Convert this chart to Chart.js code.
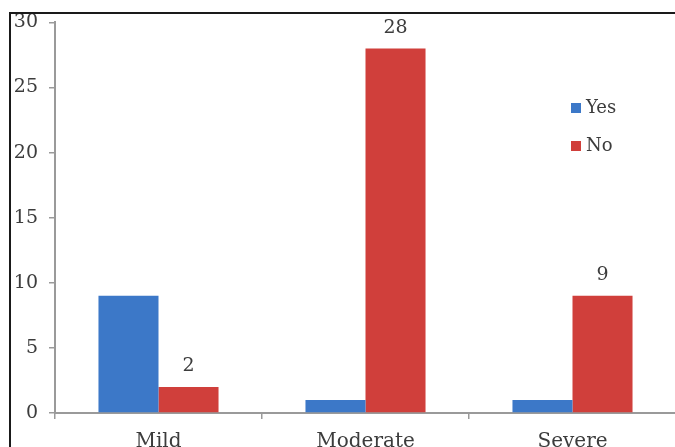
<!DOCTYPE html>
<html>
<head>
<meta charset="utf-8">
<script src="https://cdn.jsdelivr.net/npm/chart.js@4.4.1/dist/chart.umd.min.js"></script>
<style>
  html, body { margin: 0; padding: 0; background: #fff; overflow: hidden; width: 675px; height: 447px; }
  #wrap { position: relative; width: 675px; height: 447px; overflow: hidden; }
  #frame { position: absolute; left: 9px; top: 12px; width: 700px; height: 500px;
           border-left: 2px solid #1a1a1a; border-top: 2px solid #1a1a1a; pointer-events: none; }
  canvas { position: absolute; left: 0; top: 0; }
</style>
</head>
<body>
<div id="wrap">
  <canvas id="c" width="680" height="470"></canvas>
  <div id="frame"></div>
</div>
<script>
// Severity groups and responses
const categories = ['Mild', 'Moderate', 'Severe'];
const yesValues = [9, 1, 1];
const noValues = [2, 28, 9];
const seriesNames = ['Yes', 'No'];
const yTicks = [0, 5, 10, 15, 20, 25, 30];

const BLUE = '#3c78c8';
const RED = '#d03f3b';
const AXIS = '#9a9a9a';
const TEXT = '#3c3c3c';
const FONT = 'DejaVu Serif';

// Value labels above the "No" bars
const noLabels = {
  id: 'noLabels',
  afterDatasetsDraw(chart) {
    const ctx = chart.ctx;
    const meta = chart.getDatasetMeta(1);
    ctx.save();
    ctx.font = '19px "' + FONT + '"';
    ctx.fillStyle = TEXT;
    ctx.textAlign = 'center';
    ctx.textBaseline = 'bottom';
    meta.data.forEach((bar, i) => {
      ctx.fillText(String(noValues[i]), bar.x, bar.y - 11);
    });
    ctx.restore();
  }
};

// Legend drawn inside the plot, stacked vertically
const insideLegend = {
  id: 'insideLegend',
  afterDraw(chart) {
    const ctx = chart.ctx;
    ctx.save();
    ctx.font = '18px "' + FONT + '"';
    ctx.textAlign = 'left';
    ctx.textBaseline = 'middle';
    chart.data.datasets.forEach((ds, i) => {
      const y = 108 + i * 38;
      ctx.fillStyle = ds.backgroundColor;
      ctx.fillRect(571, y - 5, 10, 10);
      ctx.fillStyle = TEXT;
      ctx.fillText(ds.label, 586, y);
    });
    ctx.restore();
  }
};

new Chart(document.getElementById('c'), {
  type: 'bar',
  data: {
    labels: categories,
    datasets: [
      { label: seriesNames[0], data: yesValues, backgroundColor: BLUE },
      { label: seriesNames[1], data: noValues, backgroundColor: RED }
    ]
  },
  options: {
    responsive: false,
    animation: false,
    devicePixelRatio: 1,
    layout: { padding: { top: 22, right: 4, left: 0, bottom: 0 } },
    datasets: { bar: { categoryPercentage: 0.58, barPercentage: 1.0 } },
    plugins: { legend: { display: false }, tooltip: { enabled: false } },
    scales: {
      x: {
        grid: { display: true, drawOnChartArea: false, drawTicks: true, tickLength: 6, color: AXIS, lineWidth: 1.5 },
        border: { display: true, color: AXIS, width: 2 },
        ticks: { color: TEXT, font: { family: FONT, size: 20 }, padding: 11 },
        afterFit(scale) { scale.height = 57; }
      },
      y: {
        min: 0, max: 30,
        afterBuildTicks(scale) { scale.ticks = yTicks.map(v => ({ value: v })); },
        grid: { display: true, drawOnChartArea: false, drawTicks: true, tickLength: 6, color: AXIS, lineWidth: 1.5 },
        border: { display: true, color: AXIS, width: 2 },
        ticks: { color: TEXT, font: { family: FONT, size: 19 }, padding: 11 },
        afterFit(scale) { scale.width = 55; }
      }
    }
  },
  plugins: [noLabels, insideLegend]
});
</script>
</body>
</html>
